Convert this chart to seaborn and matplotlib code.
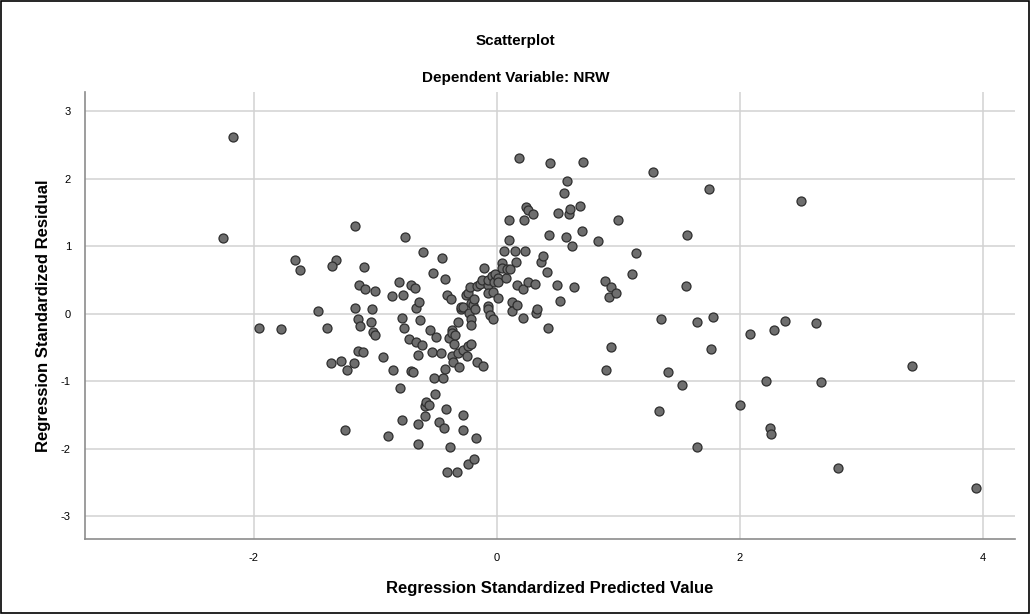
import numpy as np
import pandas as pd
import matplotlib
matplotlib.use("Agg")
import matplotlib.pyplot as plt
import seaborn as sns
from matplotlib.patches import Rectangle

# Standardized predicted values (x) and standardized residuals (y)
pred = [
    -2.17, -2.25, -1.955, -1.774, -1.66, -1.617, -1.472, -1.398, -1.365, -1.283,
    -1.319, -1.357, -1.25, -1.229, -1.171, -1.165, -1.163, -1.143, -1.135, -1.124,
    -1.14, -1.10, -1.089, -1.083, -1.036, -1.028, -1.02, -1.003, -0.998, -0.938,
    -0.891, -0.858, -0.855, -0.806, -0.795, -0.779, -0.779, -0.768, -0.76, -0.754,
    -0.724, -0.705, -0.707, -0.69, -0.672, -0.664, -0.664, -0.65, -0.647, -0.645,
    -0.636, -0.628, -0.612, -0.609, -0.59, -0.587, -0.584, -0.557, -0.549, -0.532,
    -0.521, -0.516, -0.51, -0.499, -0.475, -0.456, -0.447, -0.439, -0.433, -0.425,
    -0.425, -0.414, -0.411, -0.406, -0.39, -0.387, -0.378, -0.37, -0.37, -0.37,
    -0.357, -0.351, -0.343, -0.326, -0.318, -0.316, -0.307, -0.296, -0.296, -0.28,
    -0.28, -0.277, -0.274, -0.255, -0.247, -0.234, -0.234, -0.234, -0.228, -0.22,
    -0.214, -0.211, -0.209, -0.209, -0.197, -0.184, -0.184, -0.178, -0.173, -0.164,
    -0.164, -0.137, -0.118, -0.115, -0.102, -0.074, -0.069, -0.069, -0.069, -0.069,
    -0.055, -0.041, -0.033, -0.028, -0.02, -0.014, 0.013, 0.013, 0.013, 0.041,
    0.046, 0.063, 0.074, 0.082, 0.099, 0.104, 0.109, 0.123, 0.126, 0.15,
    0.156, 0.164, 0.164, 0.183, 0.219, 0.219, 0.225, 0.233, 0.241, 0.26,
    0.255, 0.301, 0.315, 0.321, 0.329, 0.362, 0.381, 0.414, 0.419, 0.43,
    0.436, 0.493, 0.504, 0.523, 0.553, 0.57, 0.581, 0.595, 0.6, 0.617,
    0.636, 0.688, 0.70, 0.712, 0.83, 0.893, 0.896, 0.926, 0.94, 0.94,
    0.981, 0.998, 1.115, 1.143, 1.283, 1.335, 1.354, 1.406, 1.524, 1.557,
    1.562, 1.65, 1.65, 1.748, 1.76, 1.776, 1.998, 2.083, 2.212, 2.245,
    2.256, 2.283, 2.371, 2.50, 2.626, 2.667, 2.807, 3.413, 3.942,
]
resid = [
    2.62, 1.12, -0.21, -0.23, 0.79, 0.65, 0.04, -0.21, -0.73, -0.71,
    0.79, 0.705, -1.72, -0.84, -0.73, 1.29, 0.08, -0.08, 0.43, -0.18,
    -0.56, -0.57, 0.69, 0.36, -0.13, 0.06, -0.27, 0.34, -0.32, -0.65,
    -1.81, 0.26, -0.84, 0.46, -1.10, -1.57, -0.07, 0.27, -0.21, 1.13,
    -0.37, 0.43, -0.85, -0.86, 0.38, 0.08, -0.42, -1.93, -0.62, -1.64,
    0.17, -0.09, -0.47, 0.91, -1.37, -1.52, -1.31, -1.36, -0.25, -0.57,
    0.60, -0.96, -1.195, -0.35, -1.61, -0.59, 0.82, -0.96, -1.70, 0.51,
    -0.825, -1.42, -2.35, 0.27, -0.36, -1.97, 0.21, -0.25, -0.29, -0.63,
    -0.72, -0.45, -0.32, -2.35, -0.125, -0.59, -0.79, 0.06, 0.10, 0.09,
    -0.54, -1.50, -1.73, 0.28, -0.63, 0.30, -0.48, -2.23, 0.01, 0.39,
    -0.085, -0.445, -0.17, 0.16, 0.13, 0.22, -2.16, 0.07, -1.85, 0.41,
    -0.72, 0.44, 0.49, -0.77, 0.68, 0.42, 0.49, 0.30, 0.11, 0.06,
    -0.015, 0.56, -0.085, 0.32, 0.46, 0.59, 0.52, 0.46, 0.23, 0.755,
    0.68, 0.93, 0.52, 0.656, 1.09, 1.39, 0.667, 0.17, 0.035, 0.93,
    0.765, 0.42, 0.12, 2.31, 0.37, -0.07, 1.39, 0.93, 1.585, 1.53,
    0.47, 1.47, 0.44, 0.015, 0.06, 0.76, 0.85, 0.62, -0.21, 1.17,
    2.23, 0.43, 1.49, 0.18, 1.79, 1.135, 1.97, 1.475, 1.55, 1.0,
    0.39, 1.59, 1.22, 2.25, 1.08, 0.48, -0.835, 0.246, 0.40, -0.49,
    0.305, 1.38, 0.58, 0.90, 2.09, -1.45, -0.08, -0.86, -1.06, 0.415,
    1.165, -0.125, -1.97, 1.84, -0.53, -0.05, -1.35, -0.31, -1.00, -1.70,
    -1.79, -0.25, -0.11, 1.66, -0.14, -1.02, -2.29, -0.78, -2.59,
]

df = pd.DataFrame({"pred": pred, "resid": resid})

sns.set_style("white")
plt.rcParams['font.family'] = ['Liberation Sans', 'DejaVu Sans']
plt.rcParams['axes.unicode_minus'] = False
plt.rcParams['text.color'] = 'black'
plt.rcParams['axes.labelcolor'] = 'black'

fig = plt.figure(figsize=(10.31, 6.14), dpi=100)
ax = fig.add_axes([0.0822, 0.1221, 0.9018, 0.7279])

sns.scatterplot(data=df, x="pred", y="resid", ax=ax, s=42,
                color="#6e6e6e", edgecolor="#2e2e2e", linewidth=0.9, zorder=3)

ax.set_xlim(-3.39, 4.26)
ax.set_ylim(-3.34, 3.28)
ax.set_xticks([-2, 0, 2, 4])
ax.set_yticks([-3, -2, -1, 0, 1, 2, 3])
ax.grid(True, color="#d2d2d2", linewidth=1.1, zorder=0)
ax.tick_params(axis="both", labelsize=8, labelcolor="black", length=4,
               width=1, color="#d2d2d2", pad=6)

for side in ["top", "right"]:
    ax.spines[side].set_visible(False)
for side in ["left", "bottom"]:
    ax.spines[side].set_color("#8c8c8c")
    ax.spines[side].set_linewidth(1.2)

ax.set_xlabel("Regression Standardized Predicted Value", fontsize=12,
              fontweight="bold", labelpad=13)
ax.set_ylabel("Regression Standardized Residual", fontsize=12,
              fontweight="bold", labelpad=7)

fig.text(0.5, 0.934, "Scatterplot", ha="center", va="center",
         fontsize=11, fontweight="bold")
fig.text(0.5, 0.873, "Dependent Variable: NRW", ha="center", va="center",
         fontsize=11, fontweight="bold")

# thin black frame around the whole chart
fig.patches.append(Rectangle((0.001, 0.002), 0.997, 0.996, transform=fig.transFigure,
                             fill=False, edgecolor="black", linewidth=1.2))

fig.savefig("out.png", dpi=100)
